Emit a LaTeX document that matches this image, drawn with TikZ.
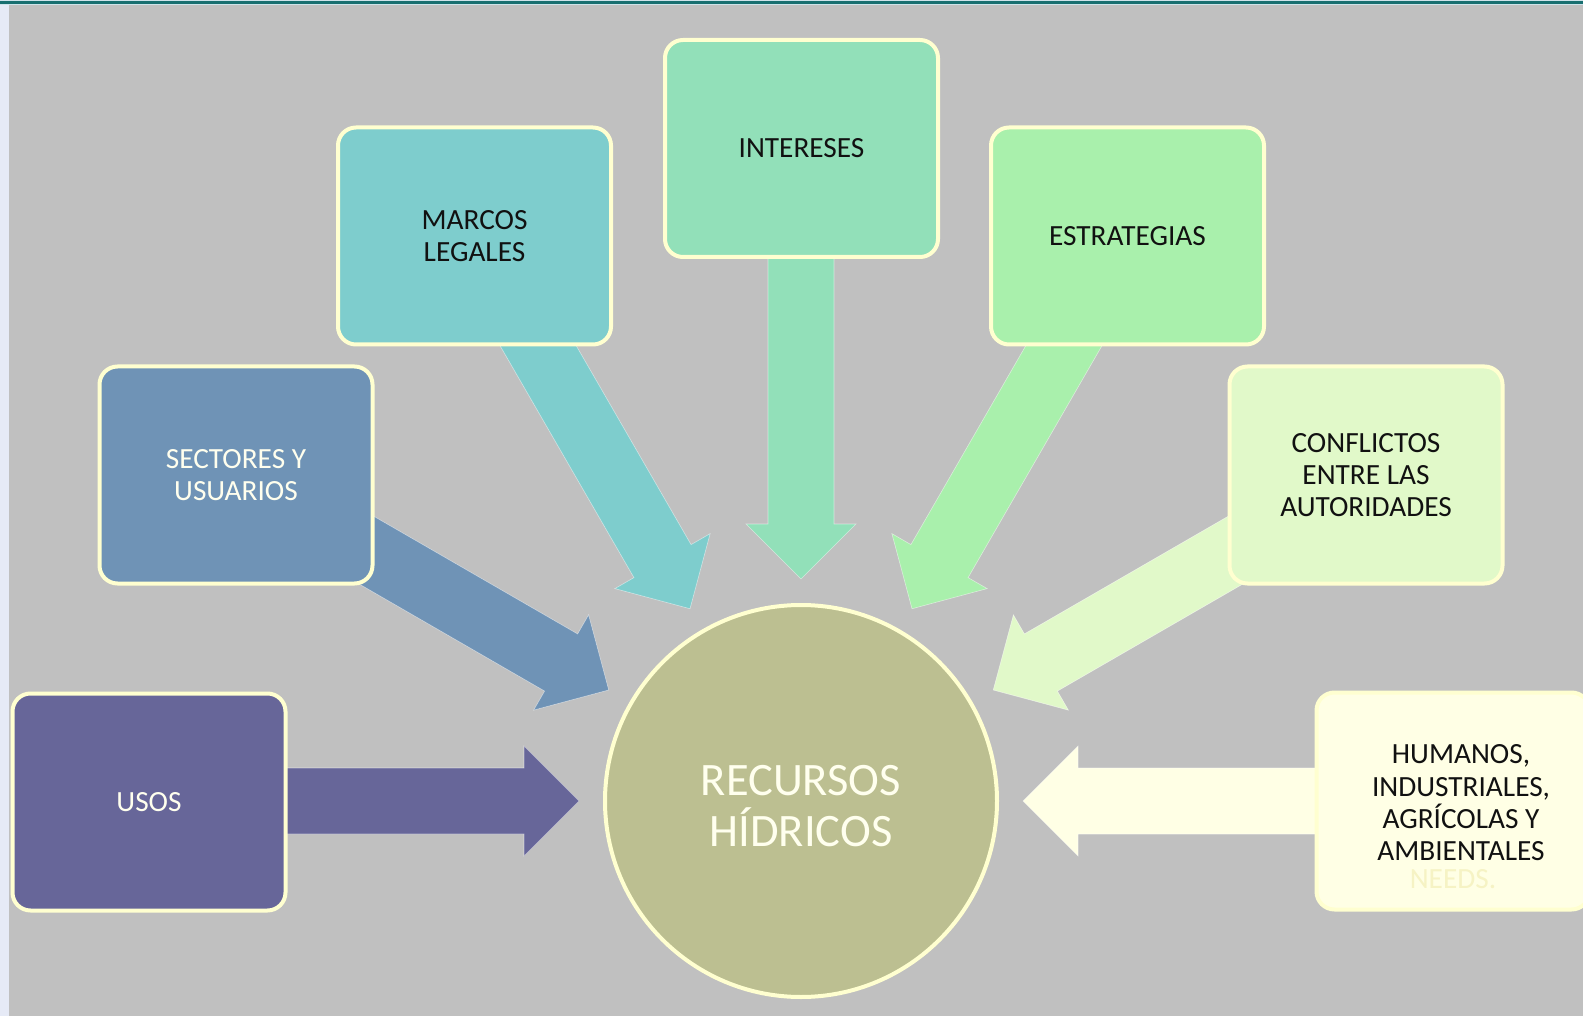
\documentclass[tikz,border=0pt]{standalone}
\usepackage{fontspec}
\setmainfont{Carlito}
\definecolor{bgc}{HTML}{C0C0C0}
\definecolor{stripc}{HTML}{E6EAF6}
\definecolor{tealc}{HTML}{186F70}
\definecolor{teallight}{HTML}{CFE3EA}
\definecolor{bordc}{HTML}{FFFFD0}
\definecolor{usosc}{HTML}{676699}
\definecolor{sectc}{HTML}{6F93B6}
\definecolor{marcc}{HTML}{7ECDCD}
\definecolor{intc}{HTML}{92E0B9}
\definecolor{estc}{HTML}{A9F0AC}
\definecolor{confc}{HTML}{E1F9C9}
\definecolor{humc}{HTML}{FFFFE5}
\definecolor{hubc}{HTML}{BCBF91}
\definecolor{creamtxt}{HTML}{FFFFEE}
\definecolor{darktxt}{HTML}{111111}
\definecolor{faintc}{HTML}{F6F3C4}
\newcommand{\boxfnt}{\fontsize{29.3}{32.3}\selectfont}
\newcommand{\hubfnt}{\fontsize{46.5}{50.5}\selectfont}
\newcommand{\hubarrow}[3]{%
  \begin{scope}[shift={(hc)}, rotate=#1]
    \filldraw[blockarrow, fill=#3] (222,0) -- (277,55) -- (277,33) -- (#2,33)
      -- (#2,-33) -- (277,-33) -- (277,-55) -- cycle;
  \end{scope}}
\begin{document}
\begin{tikzpicture}[x=1pt,y=-1pt,
  box/.style={draw=bordc, line width=4pt, rounded corners=18pt,
    minimum width=273pt, minimum height=217pt, inner sep=0pt, outer sep=0pt,
    align=center, font=\boxfnt},
  blockarrow/.style={draw=white, draw opacity=0.5, line width=0.6pt}]
\useasboundingbox (0,0) rectangle (1583,1016);
\fill[bgc] (0,0) rectangle (1583,1016);
\fill[stripc] (0,0) rectangle (9,1016);
\fill[teallight] (0,0) rectangle (1583,5.5);
\fill[tealc] (0,1) rectangle (1583,4);
\coordinate (hc) at (801,801);
% arrows (behind the boxes)
\hubarrow{180}{600}{usosc}
\hubarrow{150}{560}{sectc}
\hubarrow{120}{600}{marcc}
\hubarrow{90}{650}{intc}
\hubarrow{60}{600}{estc}
\hubarrow{30}{560}{confc}
\hubarrow{0}{600}{humc}
% boxes
\node[box, fill=usosc, text=creamtxt] (usos) at (149,802) {USOS};
\node[box, fill=sectc, text=creamtxt] (sect) at (236,475) {SECTORES Y\\USUARIOS};
\node[box, fill=marcc, text=darktxt] (marc) at (474.5,236) {MARCOS\\LEGALES};
\node[box, fill=intc, text=darktxt] (inte) at (801.5,148.5) {INTERESES};
\node[box, fill=estc, text=darktxt] (estr) at (1127.5,236) {ESTRATEGIAS};
\node[box, fill=confc, text=darktxt] (conf) at (1366,475) {CONFLICTOS\\ENTRE LAS\\AUTORIDADES};
\node[box, fill=humc, text=darktxt] (huma) at (1453,801) {};
\node[font=\boxfnt, text=faintc, anchor=base, inner sep=0pt] (needs) at (1453,888) {NEEDS.};
\node[font=\boxfnt, text=darktxt, align=center, inner sep=0pt] (humtxt) at (1461,803) {HUMANOS,\\INDUSTRIALES,\\AGRÍCOLAS Y\\AMBIENTALES};
% hub
\node[circle, draw=bordc, line width=4pt, fill=hubc, minimum size=392pt, inner sep=0pt] (hub) at (hc) {};
\node[font=\hubfnt, text=creamtxt, align=center] (hubtxt) at (801,806) {RECURSOS\\HÍDRICOS};
\end{tikzpicture}
\end{document}
